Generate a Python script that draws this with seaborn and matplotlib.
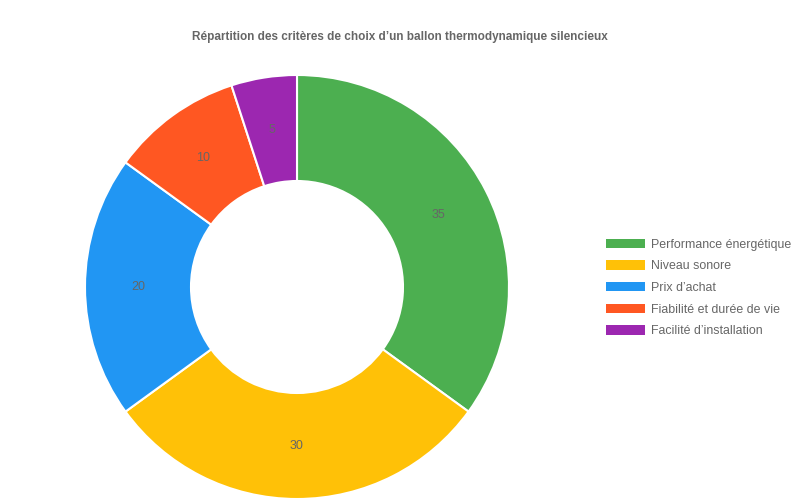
import matplotlib
matplotlib.use("Agg")
import matplotlib.pyplot as plt
from matplotlib.patches import Patch
import seaborn as sns

title = "Répartition des critères de choix d’un ballon thermodynamique silencieux"
categories = ["Performance énergétique", "Niveau sonore", "Prix d’achat",
              "Fiabilité et durée de vie", "Facilité d’installation"]
values = [35, 30, 20, 10, 5]
colors = ["#4CAF50", "#FFC107", "#2196F3", "#FF5722", "#9C27B0"]

sns.set_theme(style="white")
plt.rcParams['font.family'] = ['Liberation Sans', 'DejaVu Sans']

fig = plt.figure(figsize=(8, 5), dpi=100)
ax = fig.add_axes([0.10625, 0.002, 0.53, 0.848])

wedges, texts = ax.pie(values, colors=colors, startangle=90, counterclock=False,
                       radius=1.0, labels=[str(v) for v in values], labeldistance=0.75,
                       wedgeprops=dict(width=0.5, edgecolor="white", linewidth=1.5),
                       textprops=dict(color="#666666", fontsize=9))
for t in texts:
    t.set_ha("center")
    t.set_va("center")
ax.set_xlim(-1, 1)
ax.set_ylim(-1, 1)
ax.set_aspect("equal")
ax.axis("off")

fig.suptitle(title, x=0.5, y=1 - 37 / 500, va="center", fontsize=8.5,
             fontweight="bold", color="#666666")

handles = [Patch(facecolor=c, edgecolor="none") for c in colors]
fig.legend(handles, categories, loc="center left", bbox_to_anchor=(0.757, 0.424),
           frameon=False, fontsize=8.9, labelcolor="#666666",
           handlelength=3.15, handleheight=0.8, handletextpad=0.55, labelspacing=0.78,
           borderpad=0, borderaxespad=0)

fig.savefig("out.png", dpi=100)
